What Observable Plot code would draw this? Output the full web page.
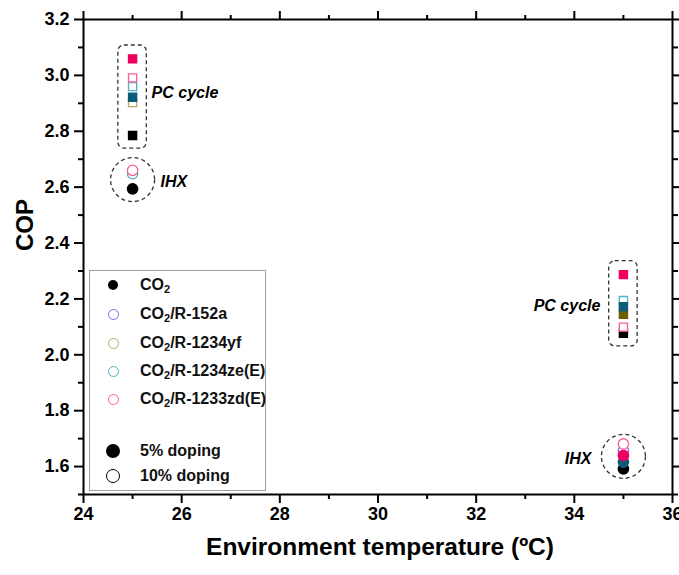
<!DOCTYPE html>
<html>
<head>
<meta charset="utf-8">
<script src="https://cdn.jsdelivr.net/npm/d3@7"></script>
<script src="https://cdn.jsdelivr.net/npm/@observablehq/plot@0.6"></script>
<style>
  body { margin: 0; background: white; }
  #wrap { position: relative; width: 679px; height: 575px; overflow: hidden; font-family: "Liberation Sans", Arial, sans-serif; font-weight: bold; }
  #legend { position: absolute; left: 89px; top: 270px; width: 177px; height: 221px; border: 1px solid #a0a0a0; background: white; box-sizing: border-box; }
  .row { position: absolute; left: 0; height: 20px; font-size: 16px; line-height: 20px; color: #111; white-space: nowrap; }
  .row .lab { position: absolute; left: 50px; top: 0; }
  .row .sym { position: absolute; border-radius: 50%; box-sizing: border-box; }
  sub { font-size: 11px; vertical-align: -3px; line-height: 0; }
</style>
</head>
<body>
<div id="wrap"></div>
<script>
// ---- data ----
const temps = [25, 35]; // environment temperature (ºC)
const series = ["CO2", "CO2/R-152a", "CO2/R-1234yf", "CO2/R-1234ze(E)", "CO2/R-1233zd(E)"];
const dopings = ["5% doping", "10% doping"];
// COP values per refrigerant, order = series (null = not visible in the figure)
const pc25_5   = [2.785, null, null, 2.922, 3.059];
const pc25_10  = [null, null, 2.903, 2.960, 2.991];
const pc35_5   = [2.077, null, 2.145, 2.172, 2.287];
const pc35_10  = [null, null, null, 2.194, 2.099];
const ihx25_5  = [2.594, null, null, null, null];
const ihx25_10 = [null, null, null, 2.648, 2.660];
const ihx35_5  = [1.592, null, null, 1.616, 1.640];
const ihx35_10 = [null, 1.657, null, null, 1.681];
const xMajor = [24, 26, 28, 30, 32, 34, 36];
const xMinor = [25, 27, 29, 31, 33, 35];
const yMajor = [1.6, 1.8, 2.0, 2.2, 2.4, 2.6, 2.8, 3.0, 3.2];
const yMinor = [1.5, 1.7, 1.9, 2.1, 2.3, 2.5, 2.7, 2.9, 3.1];

// ---- styling ----
const lightColors = ["#000000", "#6f6ff0", "#bba96a", "#4fb1c2", "#ff5c96"];
const darkColors  = ["#000000", "#3030d0", "#6e6000", "#0c5c78", "#f0005e"];

function rows(cycle, t, dop, vals) {
  return vals.map((v, i) => ({cycle, t, dop, s: i, cop: v})).filter(d => d.cop != null);
}
let pts = [
  ...rows("PC", temps[0], 5, pc25_5), ...rows("PC", temps[0], 10, pc25_10),
  ...rows("PC", temps[1], 5, pc35_5), ...rows("PC", temps[1], 10, pc35_10),
  ...rows("IHX", temps[0], 5, ihx25_5), ...rows("IHX", temps[0], 10, ihx25_10),
  ...rows("IHX", temps[1], 5, ihx35_5), ...rows("IHX", temps[1], 10, ihx35_10)
];
// drawing order (later = on top)
const rank = d => d.s === 0 ? 0 : d.s * 2 - (d.dop === 10 ? 1 : 0) + (d.s === 4 ? (d.dop === 10 ? 2 : 0) : 0);
pts.sort((a, b) => rank(a) - rank(b));
const fillOf = d => d.dop === 10 && d.s > 0 ? "white" : darkColors[d.s];
const strokeOf = d => d.dop === 10 ? lightColors[d.s] : darkColors[d.s];

// cluster extents (for annotations)
const clusters = [];
for (const cycle of ["PC", "IHX"]) for (const t of temps) {
  const v = pts.filter(d => d.cycle === cycle && d.t === t).map(d => d.cop);
  clusters.push({cycle, t, lo: d3.min(v), hi: d3.max(v), mid: (d3.min(v) + d3.max(v)) / 2});
}
const pcC = clusters.filter(c => c.cycle === "PC");
const ihxC = clusters.filter(c => c.cycle === "IHX");

const fontFam = "'Liberation Sans', Arial, sans-serif";
const axisCommon = {strokeWidth: 2, label: null, fontSize: 18, fontWeight: "bold"};

const chart = Plot.plot({
  width: 679, height: 575,
  marginLeft: 83, marginRight: 7, marginTop: 19, marginBottom: 81,
  x: {domain: [24, 36]},
  y: {domain: [1.5, 3.2]},
  style: {fontFamily: fontFam, fontWeight: "bold", fontSize: "18px", background: "white", color: "black", overflow: "visible"},
  marks: [
    Plot.axisX({...axisCommon, ticks: xMajor, tickSize: 9, tickPadding: 4, tickFormat: d => String(d)}),
    Plot.axisX({...axisCommon, ticks: xMinor, tickSize: 5, tickFormat: () => ""}),
    Plot.axisX({...axisCommon, anchor: "top", ticks: xMajor, tickSize: 9, tickFormat: () => ""}),
    Plot.axisX({...axisCommon, anchor: "top", ticks: xMinor, tickSize: 5, tickFormat: () => ""}),
    Plot.axisY({...axisCommon, ticks: yMajor, tickSize: 9, tickPadding: 5, tickFormat: d3.format(".1f")}),
    Plot.axisY({...axisCommon, ticks: yMinor, tickSize: 5, tickFormat: () => ""}),
    Plot.axisY({...axisCommon, anchor: "right", ticks: yMajor, tickSize: 9, tickFormat: () => ""}),
    Plot.axisY({...axisCommon, anchor: "right", ticks: yMinor, tickSize: 5, tickFormat: () => ""}),
    Plot.frame({stroke: "black", strokeWidth: 2}),
    // dashed annotation outlines
    Plot.rect(pcC, {x1: d => d.t - 0.29, x2: d => d.t + 0.29, y1: d => d.lo - 0.047, y2: d => d.hi + 0.048,
      fill: "none", stroke: "#333", strokeWidth: 1.3, strokeDasharray: "4,3", rx: 6}),
    Plot.dot(ihxC, {x: "t", y: "mid", r: 22, fill: "none", stroke: "#333", strokeWidth: 1.3, strokeDasharray: "4,3"}),
    // data
    Plot.dot(pts.filter(d => d.cycle === "PC"), {x: "t", y: "cop", symbol: "square", r: 4.6,
      fill: fillOf, stroke: strokeOf, strokeWidth: 1.3}),
    Plot.dot(pts.filter(d => d.cycle === "IHX"), {x: "t", y: "cop", symbol: "circle", r: 5.2,
      fill: fillOf, stroke: strokeOf, strokeWidth: 1.3}),
    // annotation labels
    Plot.text([pcC[0]], {x: "t", y: "mid", text: () => "PC cycle", dx: 19, dy: -4, textAnchor: "start", fontSize: 16, fontStyle: "italic", fontWeight: "bold"}),
    Plot.text([pcC[1]], {x: "t", y: "mid", text: () => "PC cycle", dx: -23, dy: 2, textAnchor: "end", fontSize: 16, fontStyle: "italic", fontWeight: "bold"}),
    Plot.text([ihxC[0]], {x: "t", y: "mid", text: () => "IHX", dx: 28, dy: 2, textAnchor: "start", fontSize: 16, fontStyle: "italic", fontWeight: "bold"}),
    Plot.text([ihxC[1]], {x: "t", y: "mid", text: () => "IHX", dx: -32, dy: 3, textAnchor: "end", fontSize: 16, fontStyle: "italic", fontWeight: "bold"}),
    // axis titles
    Plot.text(["COP"], {frameAnchor: "left", dx: -58, dy: -6, rotate: -90, fontSize: 24, fontWeight: "bold"}),
    Plot.text(["Environment temperature (ºC)"], {frameAnchor: "bottom", dx: 2, dy: 60, fontSize: 24.5, fontWeight: "bold"})
  ]
});
const wrap = document.getElementById("wrap");
wrap.appendChild(chart);

// ---- legend (inside plot area) ----
const legend = document.createElement("div");
legend.id = "legend";
const rowY = [14, 43, 72, 100, 128, 180, 205];
const fmt = s => s.replace("CO2", "CO<sub>2</sub>");
function addRow(y, html, symStyle) {
  const r = document.createElement("div");
  r.className = "row";
  r.style.top = (y - 10) + "px";
  r.style.width = "172px";
  const sym = document.createElement("div");
  sym.className = "sym";
  Object.assign(sym.style, symStyle);
  const lab = document.createElement("span");
  lab.className = "lab";
  lab.innerHTML = html;
  r.appendChild(sym); r.appendChild(lab);
  legend.appendChild(r);
}
series.forEach((s, i) => {
  const size = i === 0 ? 10 : 11;
  addRow(rowY[i], fmt(s), {
    width: size + "px", height: size + "px",
    left: (23 - size / 2) + "px", top: (10 - size / 2) + "px",
    background: i === 0 ? "black" : "white",
    border: i === 0 ? "none" : "1.2px solid " + lightColors[i]
  });
});
dopings.forEach((s, i) => {
  const size = 14;
  addRow(rowY[5 + i], s, {
    width: size + "px", height: size + "px",
    left: (23 - size / 2) + "px", top: (10 - size / 2) + "px",
    background: i === 0 ? "black" : "white",
    border: i === 0 ? "none" : "1.5px solid black"
  });
});
wrap.appendChild(legend);
</script>
</body>
</html>
